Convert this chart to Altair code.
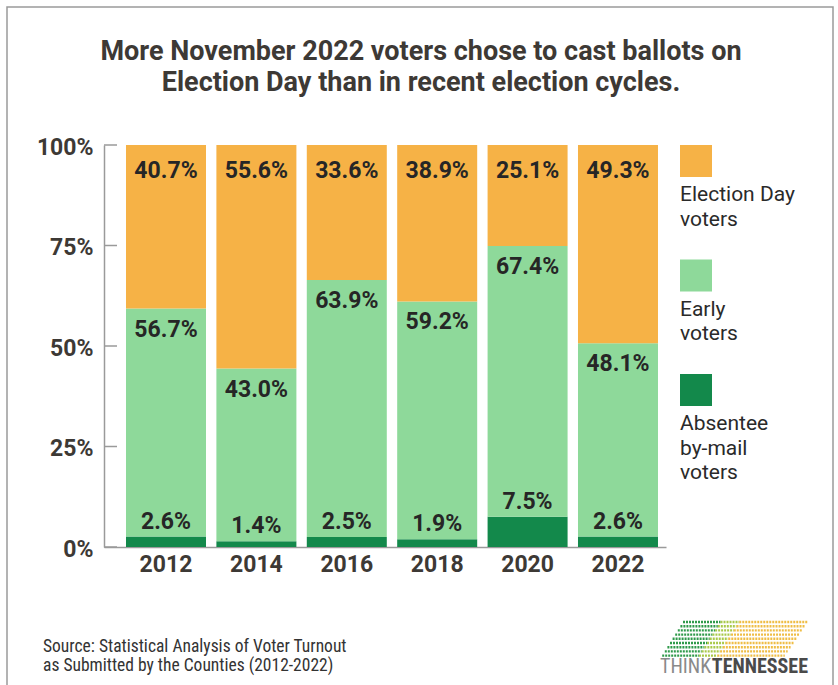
import altair as alt
import pandas as pd

# ---------------- data ----------------
years = ["2012", "2014", "2016", "2018", "2020", "2022"]
absentee = [2.6, 1.4, 2.5, 1.9, 7.5, 2.6]
early = [56.7, 43.0, 63.9, 59.2, 67.4, 48.1]
election_day = [40.7, 55.6, 33.6, 38.9, 25.1, 49.3]

categories = ["Absentee by-mail voters", "Early voters", "Election Day voters"]
colors = ["#13894b", "#8ed99a", "#f6b246"]
legend_order = ["Election Day voters", "Early voters", "Absentee by-mail voters"]
legend_text = ["Election Day\nvoters", "Early\nvoters", "Absentee\nby-mail\nvoters"]
y_ticks = [0, 25, 50, 75, 100]

title_lines = ["More November 2022 voters chose to cast ballots on",
               "Election Day than in recent election cycles."]
source_lines = ["Source: Statistical Analysis of Voter Turnout",
                "as Submitted by the Counties (2012-2022)"]

# ---------------- tables ----------------
rows = []
series = {"Absentee by-mail voters": absentee, "Early voters": early,
          "Election Day voters": election_day}
for i, yr in enumerate(years):
    lo = 0.0
    for cat in categories:
        v = series[cat][i]
        rows.append({"year": yr, "cat": cat, "value": v, "lo": lo, "hi": lo + v,
                     "label": f"{v:.1f}%"})
        lo += v
df = pd.DataFrame(rows)

ticks_df = pd.DataFrame({"v": y_ticks})
one = pd.DataFrame({"a": [0]})

FONT = "Roboto"
COND = "Roboto Condensed, Liberation Sans Narrow, Roboto"
DARK = "#3d3935"
LABEL = "#262626"
AXISC = "#9a9a9a"

color_scale = alt.Scale(domain=categories, range=colors)
x_scale = alt.Scale(domain=years, paddingInner=0.115, paddingOuter=0.166, align=0.733)
y_scale = alt.Scale(domain=[0, 100], nice=False)

x_axis = alt.Axis(labelAngle=0, ticks=False, domainColor=AXISC, domainWidth=1.5,
                  labelFont=FONT, labelFontWeight="bold", labelFontSize=23,
                  labelColor=DARK, labelPadding=6, title=None, grid=False)
y_axis = alt.Axis(values=y_ticks, labelExpr="datum.value + '%'", ticks=False,
                  domainColor=AXISC, domainWidth=1.5, grid=False, title=None,
                  labelFont=FONT, labelFontWeight="bold", labelFontSize=23,
                  labelColor=DARK, labelPadding=11, labelFlush=False,
                  labelOverlap=False, labelOffset=2)

# border
border = alt.Chart(one).mark_rect(fillOpacity=0, stroke="#9a9a9a", strokeWidth=1.5).encode(
    x=alt.value(-97), x2=alt.value(729), y=alt.value(-138), y2=alt.value(560))

bars = alt.Chart(df).mark_bar().encode(
    x=alt.X("year:N", sort=years, scale=x_scale, axis=x_axis),
    y=alt.Y("lo:Q", scale=y_scale, axis=y_axis),
    y2="hi:Q",
    color=alt.Color("cat:N", scale=color_scale, legend=None),
)

tick_rules = alt.Chart(ticks_df).mark_rule(color=AXISC, strokeWidth=1.5).encode(
    y=alt.Y("v:Q", scale=y_scale, axis=y_axis),
    x=alt.value(0), x2=alt.value(13))


def seg_labels(cat, dy):
    return alt.Chart(df).transform_filter(alt.datum.cat == cat).mark_text(
        font=FONT, fontWeight="bold", fontSize=23, color=LABEL, baseline="alphabetic",
        dy=dy).encode(
        x=alt.X("year:N", sort=years, scale=x_scale, axis=x_axis),
        y=alt.Y("hi:Q", scale=y_scale, axis=y_axis),
        text="label:N")


lab_ed = seg_labels("Election Day voters", 33)
lab_early = seg_labels("Early voters", 28)
lab_abs = seg_labels("Absentee by-mail voters", -8)

title = alt.Chart(one).mark_text(
    font=FONT, fontWeight="bold", fontSize=27, color=DARK, align="center",
    baseline="alphabetic", lineHeight=31).encode(
    x=alt.value(317), y=alt.value(-85), text=alt.value(title_lines))

# legend (manual, label under swatch)
leg_df = pd.DataFrame({"cat": legend_order, "txt": legend_text,
                       "idx": list(range(len(legend_order)))})
leg_df["top"] = leg_df["idx"] * 114.5
leg_df["bottom"] = leg_df["top"] + 32
leg_df["ty"] = leg_df["bottom"] + 24
leg_df["x0"] = 576
leg_df["x1"] = 608

leg_rect = alt.Chart(leg_df).mark_rect().encode(
    x=alt.X("x0:Q", scale=None), x2="x1:Q",
    y=alt.Y("top:Q", scale=None), y2="bottom:Q",
    color=alt.Color("cat:N", scale=color_scale, legend=None))

leg_text = alt.Chart(leg_df).mark_text(
    font=FONT, fontSize=21, color="#2a2a2a", align="left", baseline="alphabetic",
    lineBreak="\n", lineHeight=24.5).encode(
    x=alt.X("x0:Q", scale=None), y=alt.Y("ty:Q", scale=None), text="txt:N")

source = alt.Chart(one).mark_text(
    font=COND, fontSize=17.5, color="#333333", align="left", baseline="alphabetic",
    lineHeight=19).encode(
    x=alt.value(-61), y=alt.value(507), text=alt.value(source_lines))

# logo
logo_think = alt.Chart(one).mark_text(
    font=COND, fontSize=20, color="#8a8a8a", align="left", baseline="alphabetic").encode(
    x=alt.value(556), y=alt.value(528), text=alt.value("THINK"))
logo_tn = alt.Chart(one).mark_text(
    font=COND, fontSize=20, fontWeight="bold", color="#4a4a4a", align="right",
    baseline="alphabetic").encode(
    x=alt.value(704), y=alt.value(528), text=alt.value("TENNESSEE"))

dot_rows = []
for i in range(9):
    y = 477 + i * 4.2
    x0 = 579 - i * 2.6
    x1 = 704 - i * 2.9
    w = x1 - x0
    dot_rows.append({"x": x0, "x2": x0 + 0.3 * w, "y": y, "c": "#2f9a4a"})
    dot_rows.append({"x": x0 + 0.3 * w, "x2": x0 + 0.45 * w, "y": y, "c": "#a9c94a"})
    dot_rows.append({"x": x0 + 0.45 * w, "x2": x1, "y": y, "c": "#efbd45"})
dots_df = pd.DataFrame(dot_rows)
dots = alt.Chart(dots_df).mark_rule(strokeWidth=2.4, strokeDash=[2, 1]).encode(
    x=alt.X("x:Q", scale=None), x2="x2:Q", y=alt.Y("y:Q", scale=None),
    color=alt.Color("c:N", scale=None))

chart = alt.layer(
    border, bars, tick_rules, lab_ed, lab_early, lab_abs, title,
    leg_rect, leg_text, source, dots, logo_think, logo_tn
).properties(
    width=562, height=402,
    autosize=alt.AutoSizeParams(type="none"),
    padding={"left": 104, "top": 145, "right": 172, "bottom": 138},
    background="white",
).configure_view(stroke=None)

chart.save("out.html", embed_options={"renderer": "svg", "actions": False})
